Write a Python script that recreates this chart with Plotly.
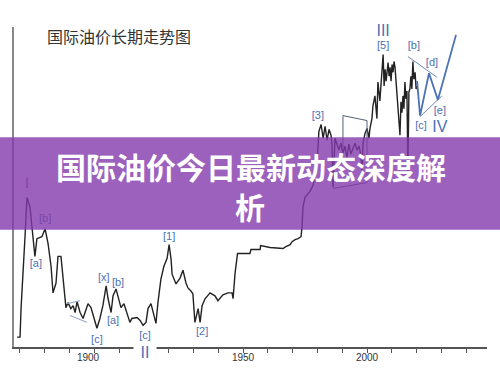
import plotly.graph_objects as go

# ---- long-term oil price trace (years, index value) ----
hist_years = [1858.9, 1860.1, 1860.5, 1861.3, 1862.1, 1862.9, 1864.1, 1864.9, 1865.7, 1866.1,
              1866.9, 1868.9, 1870.2, 1871.4, 1872.6, 1873.4, 1874.6, 1875.4, 1876.6, 1877.4,
              1878.6, 1879.4, 1880.6, 1881.5, 1882.3, 1883.1, 1884.3, 1885.5, 1886.7, 1887.5,
              1888.7, 1890.3, 1891.1, 1892.3, 1893.5, 1894.8, 1895.6, 1896.8, 1897.6, 1898.8,
              1899.6, 1900.8, 1902.0, 1903.2, 1904.4, 1905.2, 1907.3, 1908.5, 1909.7, 1910.9,
              1911.7, 1912.9, 1913.7, 1914.9, 1915.7, 1916.9, 1918.1, 1919.4, 1920.2, 1921.0,
              1921.4, 1923.0, 1924.6, 1925.8, 1927.0, 1927.8, 1929.0, 1929.8, 1930.6, 1931.9,
              1932.7, 1933.5, 1934.7, 1936.7, 1938.7, 1939.9, 1941.9, 1944.0, 1945.6, 1946.0,
              1946.8, 1947.6, 1947.8, 1952.8, 1953.2, 1956.9, 1957.1, 1960.9, 1966.1, 1967.3,
              1969.0, 1969.8, 1971.0, 1972.2, 1973.4, 1973.8, 1974.2, 1975.0, 1976.2, 1977.0,
              1978.2, 1979.0, 1979.8, 1980.6, 1981.5, 1982.3, 1983.1, 1983.9, 1984.7, 1985.5,
              1985.9, 1986.3, 1986.7, 1987.1, 1987.9, 1988.7, 1989.5, 1990.3, 1991.1, 1991.9,
              1992.7, 1993.5, 1994.4, 1995.2, 1996.0, 1996.8, 1997.6, 1998.0, 1998.4, 1999.2,
              2000.0, 2000.8, 2001.2, 2002.0, 2002.4, 2003.2, 2004.0, 2004.4, 2005.2, 2005.6,
              2006.5, 2006.9, 2007.3, 2007.7, 2008.1, 2008.5, 2008.9, 2009.3, 2009.7, 2010.1,
              2010.5, 2010.9, 2011.3, 2011.7, 2012.1, 2012.5, 2013.3, 2013.7, 2014.1, 2014.5,
              2014.9, 2015.3, 2015.7, 2016.1, 2016.5, 2016.9, 2017.3, 2017.7, 2018.1, 2018.5,
              2018.9, 2019.4, 2019.8, 2020.2]
hist_values = [10, 10, 39, 72, 112, 152, 142, 122, 99, 92,
               110, 112, 120, 105, 82, 55, 65, 92, 92, 72,
               40, 45, 39, 42, 35, 46, 35, 29, 39, 44,
               40, 25, 19, 29, 42, 62, 49, 35, 52, 59,
               52, 40, 44, 35, 25, 29, 30, 27, 22, 25,
               39, 44, 35, 24, 45, 69, 82, 90, 104, 89,
               74, 64, 70, 78, 65, 60, 57, 54, 25, 39,
               25, 42, 49, 55, 52, 47, 53, 55, 55, 49,
               75, 89, 95, 95, 99, 99, 103, 101, 100, 102,
               104, 107, 109, 110, 112, 122, 142, 152, 155, 158,
               164, 172, 182, 219, 226, 212, 224, 210, 221, 215,
               205, 162, 190, 212, 206, 200, 207, 197, 204, 192,
               206, 196, 202, 207, 200, 204, 194, 177, 207, 217,
               222, 212, 222, 232, 245, 255, 232, 269, 250, 262,
               297, 265, 282, 270, 285, 289, 275, 284, 270, 287,
               279, 290, 284, 270, 265, 245, 215, 249, 238, 255,
               242, 269, 252, 260, 179, 259, 262, 275, 262, 290,
               272, 279, 262, 265]

# ---- projected Elliott path ----
proj_years = [2020.2, 2021.4, 2025.0, 2028.6, 2035.9]
proj_values = [270, 235, 278, 251, 317]

# ---- trend / channel lines ----
upper_years = [2016.5, 2028.2]
upper_values = [295, 274]
lower_years = [2021.4, 2030.2]
lower_values = [234, 255]
tri_top_years = [1879.0, 1884.3]
tri_top_values = [44, 47]
tri_bot_years = [1880.2, 1887.1]
tri_bot_values = [32, 25]
box_years = [1986.3, 2000.0, 2000.0, 1990.3, 1990.3]
box_values = [161, 167, 230, 235, 202]

# ---- wave labels ----
label_text = ["I", "[b]", "[a]", "[x]", "[b]", "[a]", "[c]", "[c]", "[1]", "[2]",
              "[3]", "III", "[5]", "[b]", "[d]", "[e]", "[c]", "IV", "V"]
label_years = [1862.9, 1870.2, 1866.5, 1893.9, 1899.6, 1897.6, 1891.1, 1910.5, 1920.2, 1933.5,
               1980.2, 2006.5, 2006.5, 2018.9, 2026.2, 2029.4, 2021.8, 2029.4, 2036.3]
label_values = [165, 130, 84, 70, 65, 26, 7, 11, 111, 15,
                234, 320, 305, 305, 288, 239, 224, 222, 327]
label_sizes = [14, 11, 11, 11, 11, 11, 11, 11, 11, 11,
               11, 16, 11, 11, 11, 11, 11, 16, 18]

tick_positions = [1887.5, 1950, 2000]
tick_labels = ["1900", "1950", "2000"]

title_text = "国际油价长期走势图"
banner_line1 = "国际油价今日最新动态深度解"
banner_line2 = "析"

BLUE = "#4a72b5"
fig = go.Figure()

fig.add_trace(go.Scatter(x=hist_years, y=hist_values, mode="lines",
                         line=dict(color="#222222", width=1.4), hoverinfo="skip"))
for xs, ys, w, c in [(upper_years, upper_values, 1, "#6d86b3"),
                     (lower_years, lower_values, 1, "#6d86b3"),
                     (tri_top_years, tri_top_values, 1, "#8aa0c8"),
                     (tri_bot_years, tri_bot_values, 1, "#8aa0c8"),
                     (box_years, box_values, 1, "#55607a")]:
    fig.add_trace(go.Scatter(x=xs, y=ys, mode="lines", line=dict(color=c, width=w),
                             hoverinfo="skip"))
fig.add_trace(go.Scatter(x=proj_years, y=proj_values, mode="lines",
                         line=dict(color=BLUE, width=1.8), hoverinfo="skip"))
fig.add_trace(go.Scatter(x=label_years, y=label_values, mode="text", text=label_text,
                         textposition="middle center",
                         textfont=dict(color=BLUE, size=label_sizes,
                                       family="Liberation Sans, Arial"),
                         cliponaxis=False, hoverinfo="skip"))

# plot area x 14..487, y 27..352
L, R, T, B = 14, 13, 27, 23
PW, PH = 500 - L - R, 375 - T - B

def px(x):
    return (x - L) / PW

def py(y):
    return (375 - B - y) / PH

fig.add_shape(type="rect", xref="paper", yref="paper",
              x0=px(0), x1=px(500), y0=py(233), y1=py(139),
              fillcolor="rgba(131,58,171,0.8)", line=dict(width=0), layer="above")

fig.add_annotation(xref="paper", yref="paper", x=px(45), y=py(36), xanchor="left",
                   yanchor="middle", text=title_text, showarrow=False,
                   font=dict(size=16, color="#333333", family="Noto Sans CJK SC"))
fig.add_annotation(xref="paper", yref="paper", x=px(251), y=py(168), xanchor="center",
                   yanchor="middle", text="<b>" + banner_line1 + "</b>", showarrow=False,
                   font=dict(size=30, color="white", family="Noto Sans CJK SC"))
fig.add_annotation(xref="paper", yref="paper", x=px(250), y=py(209), xanchor="center",
                   yanchor="middle", text="<b>" + banner_line2 + "</b>", showarrow=False,
                   font=dict(size=30, color="white", family="Noto Sans CJK SC"))
fig.add_annotation(xref="x", yref="paper", x=1910.5, y=py(357), xanchor="center",
                   yanchor="middle", text="II", showarrow=False, bgcolor="white",
                   width=20, height=18,
                   font=dict(size=16, color=BLUE, family="Liberation Sans, Arial"))

fig.update_layout(
    width=500, height=375, margin=dict(l=L, r=R, t=T, b=B),
    paper_bgcolor="white", plot_bgcolor="white", showlegend=False,
    xaxis=dict(range=[1857.66, 2048.39], showgrid=False, zeroline=False,
               showline=True, linecolor="#555555", linewidth=1.5,
               tickvals=tick_positions, ticktext=tick_labels, ticks="",
               tickfont=dict(size=10, color="#333333", family="Liberation Sans, Arial"),
               minor=dict(dtick=10, tick0=1860, ticks="outside", ticklen=4,
                          tickcolor="#555555", showgrid=False)),
    yaxis=dict(range=[0, 325], showgrid=False, zeroline=False, showticklabels=False,
               showline=True, linecolor="#888888", linewidth=2, ticks=""),
)

fig.write_html("out.html", config={"displayModeBar": False},
               post_script="document.body.style.margin='0';")
